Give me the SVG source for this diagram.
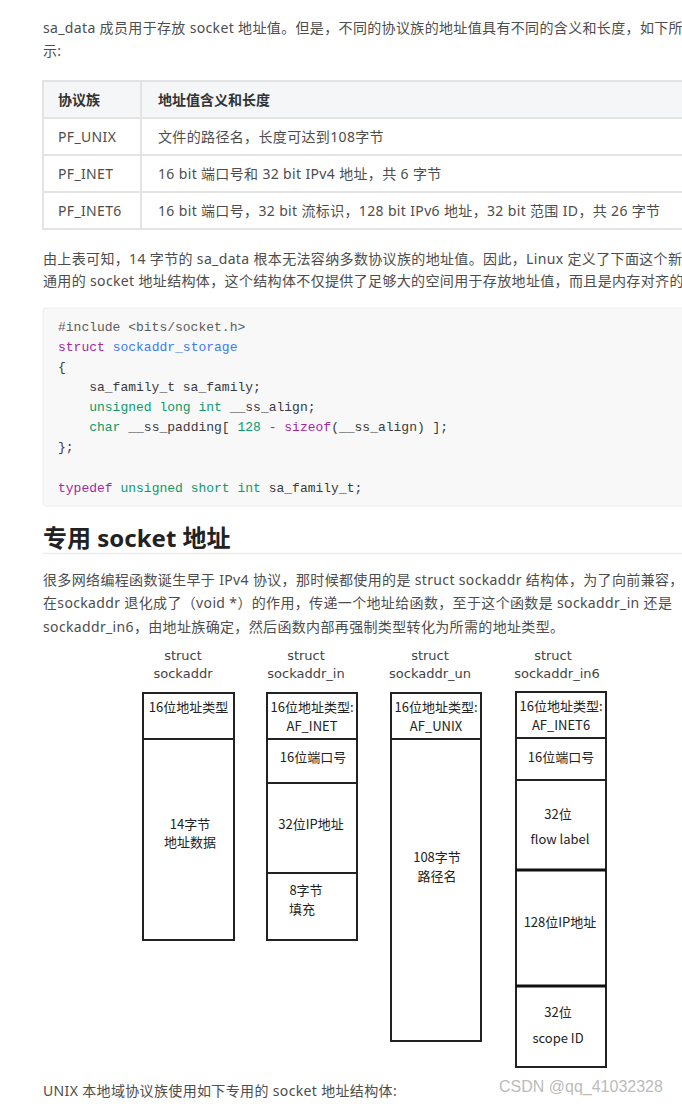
<svg xmlns="http://www.w3.org/2000/svg" width="682" height="1104" viewBox="0 0 682 1104">
<style>
.t{font-family:"Noto Sans","Noto Sans CJK SC",sans-serif;font-size:14px;fill:#4d4d4d;letter-spacing:0.35px}
.th{font-family:"Noto Sans","Noto Sans CJK SC",sans-serif;font-size:14px;fill:#333;font-weight:bold}
.c{font-family:"Liberation Mono","DejaVu Sans Mono",monospace;font-size:13px;fill:#383a42}
.kw{fill:#a626a4}.ty{fill:#0c9a6b}.ti{fill:#4078f2}.cm{fill:#5c5c5c}.num{fill:#0c9a6b}
.h{font-family:"Noto Sans","Noto Sans CJK SC",sans-serif;font-size:24px;font-weight:bold;fill:#222}
.box{fill:#fff;stroke:#222;stroke-width:2}
.dv{stroke:#222;stroke-width:2}
.dvt{stroke:#111;stroke-width:3}
.d{font-family:"Noto Sans CJK SC","Noto Sans",sans-serif;font-size:13px;fill:#222;text-anchor:middle}
.lbl{font-family:"DejaVu Sans","Noto Sans",sans-serif;font-size:13px;fill:#444;text-anchor:middle}
.wm{font-family:"Liberation Sans",sans-serif;font-size:16px;fill:#bbb}
.cell{fill:#fff;stroke:#e3e3e3;stroke-width:2}
.hcell{fill:#f5f6f7;stroke:#e3e3e3;stroke-width:2}
</style>
<rect width="682" height="1104" fill="#fff"/>
<g id="intro">
<text class="t" x="43" y="33">sa_data 成员用于存放 socket 地址值。但是，不同的协议族的地址值具有不同的含义和长度，如下所</text>
<text class="t" x="43" y="56">示:</text>
</g>
<g id="table">
<rect class="hcell" x="43" y="81" width="98" height="37"/>
<rect class="hcell" x="141" y="81" width="600" height="37"/>
<rect class="cell" x="43" y="118" width="98" height="37"/>
<rect class="cell" x="141" y="118" width="600" height="37"/>
<rect class="cell" x="43" y="155" width="98" height="37"/>
<rect class="cell" x="141" y="155" width="600" height="37"/>
<rect class="cell" x="43" y="192" width="98" height="37"/>
<rect class="cell" x="141" y="192" width="600" height="37"/>
<text class="th" x="58" y="105">协议族</text>
<text class="th" x="158" y="105">地址值含义和长度</text>
<text class="t" x="58" y="142">PF_UNIX</text>
<text class="t" x="158" y="142">文件的路径名，长度可达到108字节</text>
<text class="t" x="58" y="179">PF_INET</text>
<text class="t" x="158" y="179">16 bit 端口号和 32 bit IPv4 地址，共 6 字节</text>
<text class="t" x="58" y="216">PF_INET6</text>
<text class="t" x="158" y="216">16 bit 端口号，32 bit 流标识，128 bit IPv6 地址，32 bit 范围 ID，共 26 字节</text>
</g>
<g id="para2">
<text class="t" x="43" y="264">由上表可知，14 字节的 sa_data 根本无法容纳多数协议族的地址值。因此，Linux 定义了下面这个新</text>
<text class="t" x="43" y="286">通用的 socket 地址结构体，这个结构体不仅提供了足够大的空间用于存放地址值，而且是内存对齐的</text>
</g>
<g id="code">
<rect x="43" y="308" width="660" height="198" rx="3" fill="#f8f8f8" stroke="#ececec" stroke-width="1"/>
<text class="c" x="58" y="331"><tspan class="cm">#include &lt;bits/socket.h&gt;</tspan></text>
<text class="c" x="58" y="351"><tspan class="kw">struct</tspan> <tspan class="ti">sockaddr_storage</tspan></text>
<text class="c" x="58" y="371">{</text>
<text class="c" x="58" y="391" xml:space="preserve">    sa_family_t sa_family;</text>
<text class="c" x="58" y="411" xml:space="preserve">    <tspan class="ty">unsigned</tspan> <tspan class="ty">long</tspan> <tspan class="ty">int</tspan> __ss_align;</text>
<text class="c" x="58" y="431" xml:space="preserve">    <tspan class="ty">char</tspan> __ss_padding[ <tspan class="num">128</tspan> <tspan class="kw">-</tspan> <tspan class="kw">sizeof</tspan>(__ss_align) ];</text>
<text class="c" x="58" y="451">};</text>
<text class="c" x="58" y="492"><tspan class="kw">typedef</tspan> <tspan class="ty">unsigned</tspan> <tspan class="ty">short</tspan> <tspan class="ty">int</tspan> sa_family_t;</text>
</g>
<g id="heading">
<text class="h" x="43" y="547">专用 socket 地址</text>
<line x1="43" y1="553.5" x2="682" y2="553.5" stroke="#ececec" stroke-width="1.5"/>
</g>
<g id="para3">
<text class="t" x="43" y="585">很多网络编程函数诞生早于 IPv4 协议，那时候都使用的是 struct sockaddr 结构体，为了向前兼容，</text>
<text class="t" x="43" y="608">在sockaddr 退化成了（void *）的作用，传递一个地址给函数，至于这个函数是 sockaddr_in 还是</text>
<text class="t" x="43" y="632">sockaddr_in6，由地址族确定，然后函数内部再强制类型转化为所需的地址类型。</text>
</g>
<g id="connectors"/>
<g id="sockaddr">
<text class="lbl" x="183" y="660">struct</text>
<text class="lbl" x="183" y="678">sockaddr</text>
<rect class="box" x="143" y="693" width="91" height="247"/>
<line class="dv" x1="143" y1="739" x2="234" y2="739"/>
<text class="d" x="188.5" y="712">16位地址类型</text>
<text class="d" x="190" y="829">14字节</text>
<text class="d" x="190" y="847">地址数据</text>
</g>
<g id="sockaddr_in">
<text class="lbl" x="306" y="660">struct</text>
<text class="lbl" x="306" y="678">sockaddr_in</text>
<rect class="box" x="267" y="693" width="90" height="247"/>
<line class="dv" x1="267" y1="739" x2="357" y2="739"/>
<line class="dv" x1="267" y1="783" x2="357" y2="783"/>
<line class="dv" x1="267" y1="873" x2="357" y2="873"/>
<text class="d" x="312" y="712">16位地址类型:</text>
<text class="d" x="312" y="731">AF_INET</text>
<text class="d" x="313" y="762">16位端口号</text>
<text class="d" x="311" y="829">32位IP地址</text>
<text class="d" x="306" y="895">8字节</text>
<text class="d" x="302" y="914">填充</text>
</g>
<g id="sockaddr_un">
<text class="lbl" x="430" y="660">struct</text>
<text class="lbl" x="430" y="678">sockaddr_un</text>
<rect class="box" x="391" y="693" width="90" height="348"/>
<line class="dv" x1="391" y1="739" x2="481" y2="739"/>
<text class="d" x="436" y="712">16位地址类型:</text>
<text class="d" x="436" y="731">AF_UNIX</text>
<text class="d" x="437" y="862">108字节</text>
<text class="d" x="437" y="881">路径名</text>
</g>
<g id="sockaddr_in6">
<text class="lbl" x="553" y="660">struct</text>
<text class="lbl" x="557" y="678">sockaddr_in6</text>
<rect class="box" x="516" y="692" width="90" height="375"/>
<line class="dv" x1="516" y1="738" x2="606" y2="738"/>
<line class="dv" x1="516" y1="780" x2="606" y2="780"/>
<line class="dvt" x1="516" y1="870" x2="606" y2="870"/>
<line class="dvt" x1="516" y1="986" x2="606" y2="986"/>
<text class="d" x="561" y="711">16位地址类型:</text>
<text class="d" x="561" y="730">AF_INET6</text>
<text class="d" x="561" y="762">16位端口号</text>
<text class="d" x="558" y="819">32位</text>
<text class="d" x="560" y="844">flow label</text>
<text class="d" x="560" y="927">128位IP地址</text>
<text class="d" x="558" y="1017">32位</text>
<text class="d" x="558" y="1043">scope ID</text>
</g>
<g id="footer">
<text class="t" x="43" y="1096">UNIX 本地域协议族使用如下专用的 socket 地址结构体:</text>
<text class="wm" x="499" y="1092">CSDN @qq_41032328</text>
</g>
</svg>
